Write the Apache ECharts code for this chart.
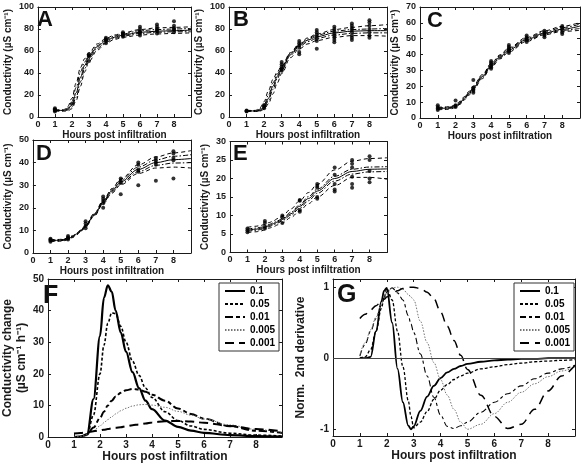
<!DOCTYPE html>
<html>
<head>
<meta charset="utf-8">
<script src="https://cdn.jsdelivr.net/npm/echarts@6/dist/echarts.min.js"></script>
<style>
  html, body { margin: 0; padding: 0; background: #fff; }
  #chart { width: 581px; height: 465px; }
</style>
</head>
<body>
<div id="chart"></div>
<script>
const fitHours = [1, 1.5, 1.75, 2, 2.25, 2.5, 2.75, 3, 3.5, 4, 4.5, 5, 6, 7, 8, 9];
// measurement hours for the dots
const hours = [1, 2, 3, 4, 5, 6, 7, 8];

// curves: fit, upper/lower outer bound, upper/lower inner bound
const fitA = [
  [6, 6, 7, 11, 22, 36, 47, 55, 64, 69.5, 72.5, 74.5, 77, 78, 78.5, 79],
  [6.5, 6.5, 9.5, 17, 31, 45, 53, 58.5, 66.5, 71.5, 74.5, 76.5, 79.5, 81, 81.5, 82],
  [5.3, 5.3, 5.5, 7.5, 15, 28, 41, 50.5, 61, 67, 70.5, 72.5, 74.5, 75.5, 76, 76.5],
  [6.2, 6.2, 8, 14, 27, 41, 50, 56.5, 65, 70.5, 73.5, 75.5, 78.5, 79.5, 80, 80.5],
  [5.7, 5.7, 6.3, 9, 18, 32, 44, 53, 62.5, 68, 71.5, 73.5, 76, 77, 77.5, 77.5]
];
const ptsA = [
  [5, 6, 6.5, 7, 8], [12], [51, 55, 56, 57], [67, 69, 70, 71, 72],
  [73, 74, 75, 76, 77], [74, 76, 77, 78, 80, 82], [76, 78, 79, 80, 82, 84], [77, 79, 80, 81, 83, 87]
];

const fitB = [
  [5.5, 5.5, 6, 9, 17, 28, 37, 44, 57, 65, 70, 73, 76.5, 78, 78.5, 78.5],
  [6, 6, 8, 14, 24, 34, 41, 46.5, 58.5, 66.5, 72, 75.5, 79.5, 81.5, 83, 84],
  [5, 5, 5.2, 7, 12, 21, 31, 39.5, 54, 62, 66.5, 69.5, 72.5, 74, 74, 73.5],
  [5.8, 5.8, 7, 11, 20, 31, 39, 45.5, 58, 66, 71, 74.5, 78, 79.5, 80, 80.5],
  [5.3, 5.3, 5.6, 8, 15, 25, 35, 42.5, 56, 64, 68.5, 71.5, 74.5, 76, 76.5, 76.5]
];
const ptsB = [
  [5, 5.5, 6], [8, 9, 10, 11], [42, 43, 44, 46, 48, 50], [57, 59, 63, 65, 67, 69],
  [62, 69, 71, 73, 75, 77, 79], [68, 70, 72, 74, 76, 78, 80, 82],
  [70, 72, 74, 77, 79, 81, 83, 85], [72, 74, 77, 80, 83, 86, 88]
];

const fitC = [
  [6, 6.2, 6.6, 7.5, 9.5, 12.5, 15.5, 19, 26, 33, 38.5, 43, 49.5, 53.5, 56, 58],
  [6.8, 7, 7.4, 8.3, 10.5, 13.5, 16.7, 20.2, 27.3, 34.3, 39.8, 44.3, 50.8, 55, 57.8, 60.3],
  [5.2, 5.4, 5.8, 6.7, 8.6, 11.5, 14.4, 17.8, 24.8, 31.8, 37.3, 41.7, 48.3, 52.5, 54.6, 55.3],
  [6.4, 6.6, 7, 7.9, 10, 13, 16.1, 19.6, 26.7, 33.7, 39.2, 43.7, 50.2, 54.2, 57, 59.2],
  [5.6, 5.8, 6.2, 7.1, 9, 12, 15, 18.4, 25.4, 32.4, 37.9, 42.3, 48.9, 53, 55.3, 56.5]
];
const ptsC = [
  [5, 6, 7, 8], [7, 7.5, 8, 11], [16, 17, 18, 19, 24], [31, 32, 33, 34, 35, 36],
  [41, 42, 43, 44, 45, 46], [48, 49, 50, 51, 52], [51, 52, 53, 54, 55], [53, 54, 56, 57, 58]
];

const fitD = [
  [5.5, 5.6, 5.8, 6.3, 7.2, 8.5, 10, 12, 17, 22.5, 27.5, 31.5, 37, 40, 41.3, 41.8],
  [5.9, 6, 6.2, 6.7, 7.6, 8.9, 10.4, 12.4, 17.6, 23.2, 28.5, 32.8, 39, 42.5, 44.3, 45.3],
  [5.1, 5.2, 5.4, 5.9, 6.8, 8.1, 9.6, 11.6, 16.4, 21.8, 26.5, 30.2, 35.2, 37.6, 38, 37.6],
  [5.7, 5.8, 6, 6.5, 7.4, 8.7, 10.2, 12.2, 17.3, 22.9, 28, 32.2, 38, 41.2, 42.8, 43.5],
  [5.3, 5.4, 5.6, 6.1, 7, 8.3, 9.8, 11.8, 16.7, 22.1, 27, 30.8, 36, 38.8, 39.8, 40]
];
const ptsD = [
  [5, 5.5, 6, 6.3], [6, 6.5, 7, 7.5], [11, 12, 13, 14], [20, 22, 23, 24, 25],
  [26, 31, 32, 33], [30, 36, 37, 39, 40], [32, 39, 40, 41, 42], [33, 41, 42, 44, 45]
];

const fitE = [
  [6, 6.3, 6.5, 6.8, 7.3, 7.8, 8.3, 8.9, 10.5, 12.5, 14.6, 16.6, 20, 21.9, 22.5, 22.6],
  [6.8, 7.1, 7.3, 7.6, 8.1, 8.6, 9.2, 9.9, 11.8, 14, 16.2, 18.4, 22.3, 24.7, 25.4, 25.6],
  [5.4, 5.6, 5.8, 6.1, 6.6, 7, 7.5, 8, 9.5, 11.3, 13.2, 15, 18.1, 20.3, 20.3, 19.8],
  [6.3, 6.6, 6.8, 7.1, 7.6, 8.1, 8.6, 9.2, 10.9, 12.9, 15.1, 17.1, 20.6, 22.5, 23.1, 23.2],
  [5.7, 6, 6.2, 6.5, 7, 7.5, 8, 8.6, 10.1, 12, 14, 16, 19.3, 21.2, 21.8, 21.9]
];
const ptsE = [
  [5.5, 6, 6.5], [6.5, 7, 8, 8.5], [8, 9.5, 10], [11, 11.5, 14, 14.2],
  [14.5, 15, 17.5, 18, 18.5], [16.5, 17, 18.5, 21, 23], [17.5, 18.5, 20.5, 23, 24, 25], [19, 20, 22, 25, 26]
];

// panel F: conductivity change for each rate
const rateNames = ['0.1', '0.05', '0.01', '0.005', '0.001'];
const hoursF = [1, 1.25, 1.5, 1.75, 2, 2.15, 2.3, 2.45, 2.6, 2.8, 3, 3.25, 3.5, 3.75, 4, 4.5, 5, 5.5, 6, 7, 8, 9];
const rateF = [
  [0, 0.1, 0.8, 12, 32, 44, 48, 46, 40, 33, 27, 20.5, 15.5, 11.5, 8.8, 5.2, 3.2, 2, 1.3, 0.6, 0.3, 0.1],
  [0, 0.1, 0.6, 7, 20, 29, 36, 39.3, 39, 35, 30, 24, 19.5, 15.5, 12.5, 8, 5.2, 3.5, 2.4, 1.2, 0.6, 0.3],
  [0, 0.1, 0.8, 3, 6, 8, 10, 11.5, 12.8, 14, 14.8, 15.2, 15, 14.3, 13.4, 11.5, 9, 7.3, 5.8, 3.4, 2, 1.3],
  [0, 0.1, 0.7, 2, 3.5, 4.5, 5.5, 6.4, 7.3, 8.3, 9.1, 9.8, 10.2, 10.3, 10.1, 9.4, 8.1, 6.9, 5.7, 3.8, 2.4, 1.5],
  [1.1, 1.3, 1.5, 1.8, 2.1, 2.3, 2.5, 2.7, 2.9, 3.1, 3.4, 3.7, 4, 4.3, 4.6, 5, 5.1, 4.9, 4.5, 3.5, 2.5, 1.8]
];

// panel G: normalised 2nd derivative for each rate
const hoursG = [1, 1.2, 1.4, 1.6, 1.8, 1.9, 2, 2.2, 2.4, 2.6, 2.8, 2.9, 3, 3.25, 3.5, 3.75, 4, 4.25, 4.5, 4.75, 5, 5.5, 6, 6.5, 7, 7.5, 8, 8.5, 9];
const derivG = [
  [0, 0, 0.02, 0.38, 0.8, 0.95, 0.99, 0.5, -0.15, -0.62, -0.95, -1, -0.96, -0.74, -0.54, -0.39, -0.28, -0.2, -0.15, -0.11, -0.08, -0.05, -0.03, -0.02, -0.01, -0.01, 0, 0, 0],
  [0, 0.02, 0.12, 0.38, 0.7, 0.85, 0.98, 0.82, 0.38, -0.12, -0.6, -0.82, -0.98, -0.9, -0.75, -0.58, -0.45, -0.37, -0.3, -0.25, -0.21, -0.15, -0.12, -0.09, -0.07, -0.05, -0.04, -0.03, -0.02],
  [0.03, 0.2, 0.38, 0.56, 0.75, 0.85, 0.93, 0.99, 0.92, 0.82, 0.6, 0.48, 0.36, 0.06, -0.25, -0.55, -0.8, -0.96, -0.99, -0.95, -0.9, -0.76, -0.62, -0.5, -0.39, -0.29, -0.21, -0.15, -0.1],
  [0.05, 0.22, 0.4, 0.58, 0.76, 0.85, 0.92, 0.99, 1, 0.97, 0.9, 0.86, 0.82, 0.52, 0.22, -0.06, -0.3, -0.52, -0.72, -0.9, -1, -0.93, -0.78, -0.62, -0.48, -0.36, -0.26, -0.18, -0.12],
  [0.56, 0.62, 0.68, 0.74, 0.8, 0.83, 0.86, 0.91, 0.95, 0.98, 1, 1, 1, 0.98, 0.93, 0.84, 0.65, 0.45, 0.25, 0.04, -0.16, -0.52, -0.82, -0.99, -0.93, -0.72, -0.46, -0.25, -0.1]
];

const FONT = 'Liberation Sans, Arial, Helvetica, sans-serif';
const INK = '#1a1a1a';
const condName = 'Conductivity (µS cm⁻¹)';

const panels = [
  { letter: 'A', fit: fitA, pts: ptsA, yMax: 100, yStep: 20, box: [32, 7, 159, 110], at: [37, 20] },
  { letter: 'B', fit: fitB, pts: ptsB, yMax: 100, yStep: 20, box: [229, 7, 158, 110], at: [233, 20] },
  { letter: 'C', fit: fitC, pts: ptsC, yMax: 70, yStep: 10, box: [420, 7, 160, 111], at: [427, 20.5] },
  { letter: 'D', fit: fitD, pts: ptsD, yMax: 50, yStep: 10, box: [32, 140, 159, 113], at: [36, 154] },
  { letter: 'E', fit: fitE, pts: ptsE, yMax: 30, yStep: 5, box: [230, 141.5, 157, 111], at: [233, 154] }
];

// line look of the five curves in A-E
const fitStyles = [
  { type: 'solid', width: 1 },
  { type: [4, 3], width: 1 },
  { type: [4, 3], width: 1 },
  { type: [5, 2, 1.5, 2], width: 1 },
  { type: [5, 2, 1.5, 2], width: 1 }
];
const styleF = [
  { type: 'solid', width: 2.2, color: '#000' },
  { type: [3, 2], width: 1.6, color: '#000' },
  { type: [8, 3, 4, 3], width: 2, color: '#000' },
  { type: [1.5, 1.5], width: 1, color: '#777' },
  { type: [9, 5], width: 2, color: '#000' }
];
const styleG = [
  { type: 'solid', width: 1.8, color: '#000' },
  { type: [3, 2], width: 1.3, color: '#000' },
  { type: [6, 3, 3, 3], width: 1.1, color: '#000' },
  { type: [1.5, 1.5], width: 1, color: '#777' },
  { type: [9, 6], width: 1.5, color: '#000' }
];

const grid = [], xAxis = [], yAxis = [], series = [], graphic = [];

function addAxes(i, box, y, small) {
  const fs = small ? 9 : 10;
  const nameFs = small ? 10 : 12;
  grid.push({ left: box[0], top: box[1], width: box[2], height: box[3], show: false });
  const line = { show: true, onZero: false, lineStyle: { color: INK, width: 1 } };
  const tick = { show: true, inside: true, length: 3, lineStyle: { color: INK } };
  xAxis.push({
    gridIndex: i, type: 'value', min: 0, max: 9, interval: 1, position: 'bottom',
    axisLine: line, axisTick: tick, splitLine: { show: false },
    axisLabel: { color: INK, fontSize: fs, fontWeight: 'bold', fontFamily: FONT, margin: 3, showMaxLabel: false },
    name: 'Hours post infiltration', nameLocation: 'middle', nameGap: 13,
    nameTextStyle: { color: INK, fontSize: nameFs, fontWeight: 'bold', fontFamily: FONT }
  });
  xAxis.push({
    gridIndex: i, type: 'value', min: 0, max: 9, interval: 1, position: 'top',
    axisLine: line, axisTick: tick, axisLabel: { show: false }, splitLine: { show: false }
  });
  const yl = Object.assign({
    gridIndex: i, type: 'value', position: 'left',
    axisLine: line, axisTick: tick, splitLine: { show: false },
    axisLabel: { color: INK, fontSize: fs, fontWeight: 'bold', fontFamily: FONT, margin: 4 },
    nameLocation: 'middle', nameRotate: 90,
    nameTextStyle: { color: INK, fontSize: nameFs, fontWeight: 'bold', fontFamily: FONT, lineHeight: 14 }
  }, y);
  yAxis.push(yl);
  yAxis.push({
    gridIndex: i, type: 'value', position: 'right', min: yl.min, max: yl.max, interval: yl.interval,
    axisLine: line, axisTick: Object.assign({}, tick, y.axisTick || {}), axisLabel: { show: false }, splitLine: { show: false }
  });
}

function addLetter(txt, at, size) {
  graphic.push({
    type: 'text', x: at[0], y: at[1],
    style: { text: txt, fill: '#111', font: 'bold ' + size + 'px ' + FONT, verticalAlign: 'middle' }
  });
}

panels.forEach((p, i) => {
  addAxes(i, p.box, { min: 0, max: p.yMax, interval: p.yStep, name: condName, nameGap: 16 }, true);
  p.fit.forEach((vals, k) => {
    series.push({
      type: 'line', xAxisIndex: 2 * i, yAxisIndex: 2 * i, symbol: 'none', smooth: 0.35, smoothMonotone: 'x',
      silent: true, lineStyle: { color: '#000', width: fitStyles[k].width, type: fitStyles[k].type },
      data: fitHours.map((h, j) => [h, vals[j]])
    });
  });
  series.push({
    type: 'scatter', xAxisIndex: 2 * i, yAxisIndex: 2 * i, symbol: 'circle', symbolSize: 4, silent: true,
    itemStyle: { color: '#000' },
    data: p.pts.flatMap((vals, k) => vals.map(v => [hours[k], v]))
  });
  addLetter(p.letter, p.at, 22);
});

// panel F
addAxes(5, [40, 279, 242, 158], {
  min: 0, max: 50, interval: 10, name: 'Conductivity change\n(µS cm⁻¹ h⁻¹)', nameGap: 14
}, false);
rateNames.forEach((r, k) => {
  series.push({
    name: 'F ' + r, type: 'line', xAxisIndex: 10, yAxisIndex: 10, symbol: 'none', smooth: 0.35, smoothMonotone: 'x',
    silent: true, lineStyle: styleF[k], itemStyle: { color: 'rgba(0,0,0,0)', borderWidth: 0 },
    data: hoursF.map((h, j) => [h, rateF[k][j]])
  });
});
addLetter('F', [43, 296], 25);

// panel G
addAxes(6, [333, 279, 242, 157], {
  min: -1.095, max: 1.115, name: 'Norm.  2nd derivative', nameGap: 25,
  axisLabel: { color: INK, fontSize: 10, fontWeight: 'bold', fontFamily: FONT, margin: 4, customValues: [-1, 0, 1] },
  axisTick: { customValues: [-1, 0, 1] }
}, false);
yAxis[12].axisTick = { show: true, inside: true, length: 3, lineStyle: { color: INK }, customValues: [-1, 0, 1] };
rateNames.forEach((r, k) => {
  const s = {
    name: 'G ' + r, type: 'line', xAxisIndex: 12, yAxisIndex: 12, symbol: 'none', smooth: 0.35, smoothMonotone: 'x',
    silent: true, lineStyle: styleG[k], itemStyle: { color: 'rgba(0,0,0,0)', borderWidth: 0 },
    data: hoursG.map((h, j) => [h, derivG[k][j]])
  };
  if (k === 0) {
    s.markLine = {
      silent: true, symbol: ['none', 'none'], label: { show: false },
      lineStyle: { color: '#444', width: 1, type: 'solid' }, data: [{ yAxis: 0 }]
    };
  }
  series.push(s);
});
addLetter('G', [337, 295], 25);

function legendAt(left, prefix) {
  return {
    orient: 'vertical', left: left, top: 283, itemWidth: 20, itemHeight: 10, itemGap: 3,
    padding: [3, 4, 3, 5], borderColor: '#333', borderWidth: 1, backgroundColor: '#fff',
    selectedMode: false,
    itemStyle: { opacity: 0 },
    data: rateNames.map(r => prefix + r),
    formatter: name => name.slice(2),
    textStyle: { color: '#000', fontSize: 10, fontWeight: 'bold', fontFamily: FONT }
  };
}

const chart = echarts.init(document.getElementById('chart'), null, { renderer: 'canvas' });
chart.setOption({
  animation: false,
  backgroundColor: '#fff',
  grid: grid,
  xAxis: xAxis,
  yAxis: yAxis,
  legend: [legendAt(219, 'F '), legendAt(514, 'G ')],
  graphic: graphic,
  series: series
});
</script>
</body>
</html>
